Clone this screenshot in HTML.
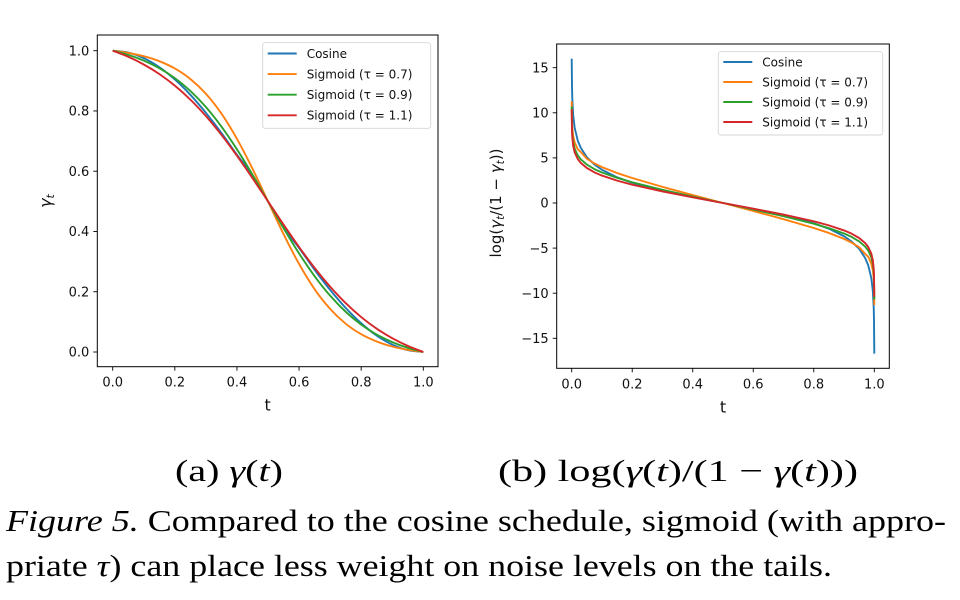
<!DOCTYPE html>
<html><head><meta charset="utf-8"><style>
body{margin:0;background:#fff;}
svg text{font-family:"DejaVu Sans","Liberation Sans",sans-serif;}
svg text.cap{font-family:"Liberation Serif","Times New Roman",Times,serif;}
</style></head><body>
<svg id="fig" width="960" height="595" viewBox="0 0 960 595" xmlns="http://www.w3.org/2000/svg">
<g id="left"></g>
<g id="right"></g>
<text class="cap" font-family="Liberation Serif, serif" x="175" y="481" font-size="31" textLength="108" lengthAdjust="spacingAndGlyphs">(a) <tspan font-style="italic">γ</tspan>(<tspan font-style="italic">t</tspan>)</text>
<text class="cap" font-family="Liberation Serif, serif" x="498" y="481" font-size="31" textLength="360" lengthAdjust="spacingAndGlyphs">(b) log(<tspan font-style="italic">γ</tspan>(<tspan font-style="italic">t</tspan>)/(1 − <tspan font-style="italic">γ</tspan>(<tspan font-style="italic">t</tspan>)))</text>
<text class="cap" font-family="Liberation Serif, serif" x="6" y="531" font-size="31" textLength="940" lengthAdjust="spacingAndGlyphs"><tspan font-style="italic">Figure 5.</tspan> Compared to the cosine schedule, sigmoid (with appro-</text>
<text class="cap" font-family="Liberation Serif, serif" x="6" y="576" font-size="31" textLength="826" lengthAdjust="spacingAndGlyphs">priate <tspan font-style="italic">τ</tspan>) can place less weight on noise levels on the tails.</text>
</svg>
<script>
const seriesNames=["Cosine","Sigmoid (τ = 0.7)","Sigmoid (τ = 0.9)","Sigmoid (τ = 1.1)"];
const seriesColors=["#1f77b4","#ff7f0e","#2ca02c","#d62728"];
const drawOrder=[0,1,2,3];
// gamma(t) samples
const gammaT=[0,0.05,0.1,0.15,0.2,0.25,0.3,0.35,0.4,0.45,0.5,0.55,0.6,0.65,0.7,0.75,0.8,0.85,0.9,0.95,1];
const gammaCosine=[1,0.9938,0.9755,0.9455,0.9045,0.8536,0.7939,0.7270,0.6545,0.5868,0.5,0.4132,0.3455,0.2730,0.2061,0.1464,0.0955,0.0545,0.0245,0.0062,0];
const gammaSig07=[1,0.9927,0.9817,0.9652,0.9410,0.9060,0.8570,0.7914,0.7076,0.6085,0.5,0.3915,0.2924,0.2086,0.1430,0.0940,0.0590,0.0348,0.0183,0.0073,0];
const gammaSig09=[1,0.9861,0.9672,0.9421,0.9090,0.8664,0.8130,0.7482,0.6727,0.5887,0.5,0.4113,0.3273,0.2518,0.1870,0.1336,0.0910,0.0579,0.0328,0.0139,0];
const gammaSig11=[1,0.9798,0.9542,0.9227,0.8840,0.8376,0.7831,0.7208,0.6515,0.5771,0.5,0.4229,0.3485,0.2792,0.2169,0.1624,0.1160,0.0773,0.0458,0.0202,0];
// logit samples
const logitT=[0,0.001,0.002,0.005,0.01,0.02,0.03,0.05,0.075,0.1,0.15,0.2,0.3,0.4,0.5,0.6,0.7,0.8,0.85,0.9,0.925,0.95,0.97,0.98,0.99,0.995,0.998,0.999,1];
const logitCosine=[16,12.91,11.53,9.69,8.31,6.92,6.11,5.08,4.27,3.69,2.85,2.25,1.35,0.64,0,-0.64,-1.35,-2.25,-2.85,-3.69,-4.27,-5.08,-6.11,-6.92,-8.31,-9.69,-11.53,-12.91,-16.7];
const logitSig07=[11.3,9.04,8.35,7.42,6.70,5.96,5.65,4.91,4.39,3.98,3.32,2.77,1.79,0.88,0,-0.88,-1.79,-2.77,-3.32,-3.98,-4.39,-4.91,-5.65,-5.96,-6.70,-7.42,-8.35,-9.04,-11.3];
const logitSig09=[10.7,8.34,7.65,6.74,6.01,5.28,4.84,4.26,3.76,3.38,2.79,2.30,1.47,0.72,0,-0.72,-1.47,-2.30,-2.79,-3.38,-3.76,-4.26,-4.84,-5.28,-6.01,-6.74,-7.65,-8.34,-10.7];
const logitSig11=[10.4,7.93,7.24,6.32,5.60,4.88,4.45,3.88,3.40,3.04,2.48,2.03,1.28,0.63,0,-0.63,-1.28,-2.03,-2.48,-3.04,-3.40,-3.88,-4.45,-4.88,-5.60,-6.32,-7.24,-7.93,-10.4];
const xTicks=[0,0.2,0.4,0.6,0.8,1.0];
const xTickLabels=["0.0","0.2","0.4","0.6","0.8","1.0"];
const gammaYTicks=[0,0.2,0.4,0.6,0.8,1.0];
const gammaYTickLabels=["0.0","0.2","0.4","0.6","0.8","1.0"];
const logitYTicks=[-15,-10,-5,0,5,10,15];
const logitYTickLabels=["−15","−10","−5","0","5","10","15"];

const NS="http://www.w3.org/2000/svg";
function mk(parent,tag,attrs){const e=document.createElementNS(NS,tag);for(const k in attrs)e.setAttribute(k,attrs[k]);parent.appendChild(e);return e;}

function linPath(xs,ys,sx,sy){return xs.map((t,i)=>(i?"L":"M")+sx(t).toFixed(2)+","+sy(ys[i]).toFixed(2)).join("");}
function smoothPath(xs,ys,sx,sy){
  const p=xs.map((t,i)=>[sx(t),sy(ys[i])]);
  let d="M"+p[0][0].toFixed(2)+","+p[0][1].toFixed(2);
  for(let i=0;i<p.length-1;i++){
    const p0=p[Math.max(0,i-1)],p1=p[i],p2=p[i+1],p3=p[Math.min(p.length-1,i+2)];
    const c1=[p1[0]+(p2[0]-p0[0])/6,p1[1]+(p2[1]-p0[1])/6];
    const c2=[p2[0]-(p3[0]-p1[0])/6,p2[1]-(p3[1]-p1[1])/6];
    d+="C"+c1[0].toFixed(2)+","+c1[1].toFixed(2)+" "+c2[0].toFixed(2)+","+c2[1].toFixed(2)+" "+p2[0].toFixed(2)+","+p2[1].toFixed(2);
  }
  return d;
}

function drawChart(g,cfg){
  const sx=v=>cfg.x0+(v-0)*(cfg.x1-cfg.x0);
  const sy=v=>cfg.yZero+(v-cfg.yv0)*(cfg.yOne-cfg.yZero)/(cfg.yv1-cfg.yv0);
  const clipId=cfg.id+"-clip";
  const cp=mk(g,"clipPath",{id:clipId});
  mk(cp,"rect",{x:cfg.bx0,y:cfg.by0,width:cfg.bx1-cfg.bx0,height:cfg.by1-cfg.by0});
  const lines=mk(g,"g",{"clip-path":"url(#"+clipId+")"});
  
  
  drawOrder.forEach(i=>{
    const d=cfg.smooth?smoothPath(cfg.xs,cfg.series[i],sx,sy):linPath(cfg.xs,cfg.series[i],sx,sy);
    const p=mk(lines,"path",{d:d,fill:"none",stroke:seriesColors[i],"stroke-width":1.9,"stroke-linejoin":"round"});
    
    
  });
  const frame=mk(g,"rect",{x:cfg.bx0,y:cfg.by0,width:cfg.bx1-cfg.bx0,height:cfg.by1-cfg.by0,fill:"none",stroke:"#000","stroke-width":1});
  
  
  xTicks.forEach((v,i)=>{
    const x=sx(v);
    mk(g,"line",{x1:x,x2:x,y1:cfg.by1,y2:cfg.by1+4,stroke:"#000","stroke-width":0.9});
    const t=mk(g,"text",{x:x,y:cfg.by1+20,"font-size":13,"text-anchor":"middle",fill:"#111"});
    t.textContent=xTickLabels[i];
    
    
  });
  cfg.yt.forEach((v,i)=>{
    const y=sy(v);
    mk(g,"line",{x1:cfg.bx0-4,x2:cfg.bx0,y1:y,y2:y,stroke:"#000","stroke-width":0.9});
    const t=mk(g,"text",{x:cfg.bx0-8,y:y+4.7,"font-size":13,"text-anchor":"end",fill:"#111"});
    t.textContent=cfg.ytl[i];
    
    
  });
  const xl=mk(g,"text",{x:(cfg.bx0+cfg.bx1)/2,y:cfg.by1+44,"font-size":16,"text-anchor":"middle",fill:"#111"});
  xl.textContent="t";
  
  
  const L=cfg.leg;
  const lg=mk(g,"g",{});
  
  
  mk(lg,"rect",{x:L.x,y:L.y,width:L.w,height:L.h,rx:2.5,fill:"#fff","fill-opacity":0.85,stroke:"#d5d5d5","stroke-width":0.9});
  seriesNames.forEach((n,i)=>{
    const y=L.ey+i*L.dy;
    const ln=mk(lg,"line",{x1:L.x+5,x2:L.x+34,y1:y,y2:y,stroke:seriesColors[i],"stroke-width":1.9});
    
    
    const t=mk(lg,"text",{x:L.x+44,y:y+4.3,"font-size":12,fill:"#111"});
    t.textContent=n;
    
    
  });
}

drawChart(document.getElementById("left"),{id:"gamma",x0:112.7,x1:423.3,bx0:97.3,bx1:438,by0:35,by1:366.7,
  yv0:0,yv1:1,yZero:352,yOne:50.7,xs:gammaT,series:[gammaCosine,gammaSig07,gammaSig09,gammaSig11],smooth:true,
  yt:gammaYTicks,ytl:gammaYTickLabels,leg:{x:262.7,y:42.7,w:168,h:85.6,ey:53.5,dy:20.6}});
drawChart(document.getElementById("right"),{id:"logit",x0:571.7,x1:874.3,bx0:556.7,bx1:889.3,by0:44,by1:368.3,
  yv0:-15,yv1:15,yZero:338.3,yOne:67.7,xs:logitT,series:[logitCosine,logitSig07,logitSig09,logitSig11],smooth:false,
  yt:logitYTicks,ytl:logitYTickLabels,leg:{x:718.3,y:51.7,w:164.4,h:83.3,ey:62,dy:20}});

const fig=document.getElementById("fig");
const yl1=mk(fig,"text",{x:0,y:0,"font-size":16,"text-anchor":"middle",fill:"#111","font-style":"italic",transform:"translate(51,201) rotate(-90)"});
yl1.innerHTML='γ<tspan font-size="11" dy="3">t</tspan>';


const yl2=mk(fig,"text",{x:0,y:0,"font-size":15,"text-anchor":"middle",fill:"#111",transform:"translate(501,203) rotate(-90)"});
yl2.innerHTML='log(<tspan font-style="italic">γ</tspan><tspan font-size="10.5" dy="3" font-style="italic">t</tspan><tspan dy="-3">/(1 − </tspan><tspan font-style="italic">γ</tspan><tspan font-size="10.5" dy="3" font-style="italic">t</tspan><tspan dy="-3">))</tspan>';


</script>
</body></html>
